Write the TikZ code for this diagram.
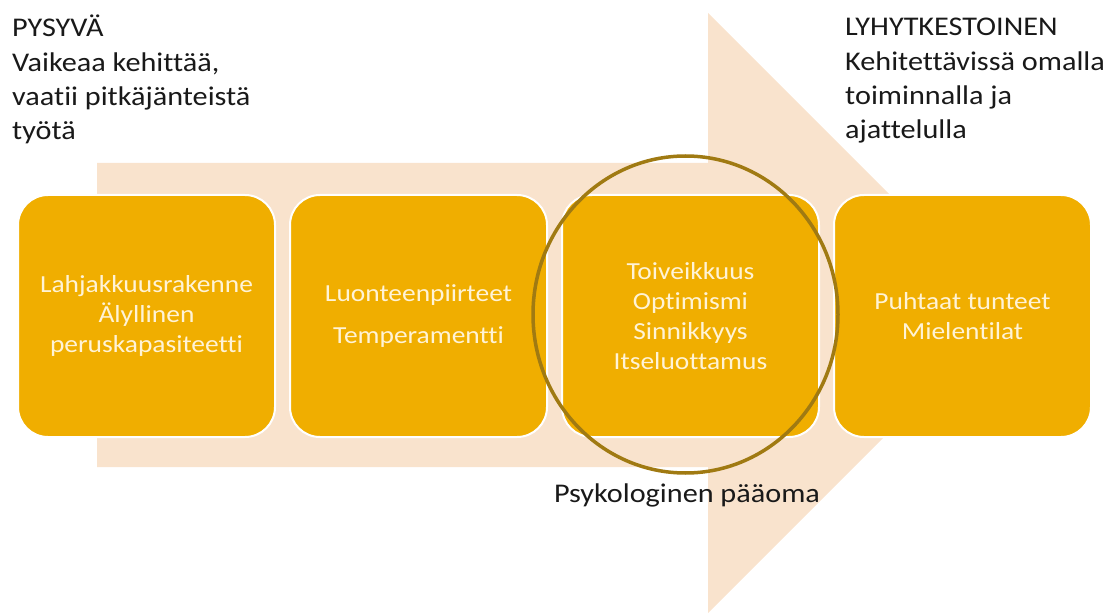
\documentclass[tikz,border=0pt]{standalone}
\usepackage{fontspec}
\setmainfont{Carlito}[FakeStretch=1.12, Ligatures=NoCommon]
\usetikzlibrary{positioning, shapes.geometric}
\definecolor{arrowpeach}{HTML}{F9E3CD}
\definecolor{boxgold}{HTML}{F0AE00}
\definecolor{boxtext}{HTML}{FFF3D6}
\definecolor{ringgold}{HTML}{A07A12}
\tikzset{
  stage/.style={
    rectangle,
    rounded corners=30pt,
    draw=white,
    line width=2pt,
    fill=boxgold,
    text=boxtext,
    align=center,
    minimum width=257pt,
    minimum height=242pt,
    inner sep=4pt,
    font=\fontsize{24.5}{30}\selectfont
  },
  ring/.style={
    ellipse,
    draw=ringgold,
    line width=3.5pt,
    minimum width=305pt,
    minimum height=317pt
  },
  note/.style={
    align=left,
    anchor=north west,
    inner sep=0pt,
    text=black!90,
    font=\fontsize{27}{34.3}\selectfont
  }
}

\begin{document}
\begin{tikzpicture}[x=1pt, y=-1pt, node distance=13pt]
  \useasboundingbox (0,0) rectangle (1120,615);
  % big arrow behind the boxes
  \fill[arrowpeach] (97,163) -- (708,163) -- (708,13) -- (1008,313)
    -- (708,613) -- (708,467) -- (97,467) -- cycle;

  \node[stage] (talent) at (146.5,316) {Lahjakkuusrakenne\\Älyllinen\\peruskapasiteetti};
  \node[stage, right=of talent] (traits) {Luonteenpiirteet\\[12pt]Temperamentti};
  \node[stage, right=of traits] (psycap) {Toiveikkuus\\Optimismi\\Sinnikkyys\\Itseluottamus};
  \node[stage, right=of psycap] (moods) {Puhtaat tunteet\\Mielentilat};

  \node[ring] (ring) at (685.5,314.5) {};
  \node[note, anchor=center] (ringlabel) at (687,495) {Psykologinen pääoma};

  \node[note] (stable) at (12,15) {PYSYVÄ\\Vaikeaa kehittää,\\vaatii pitkäjänteistä\\työtä};
  \node[note] (short) at (845,18) {LYHYTKESTOINEN\\Kehitettävissä omalla\\toiminnalla ja\\ajattelulla};
\end{tikzpicture}
\end{document}
